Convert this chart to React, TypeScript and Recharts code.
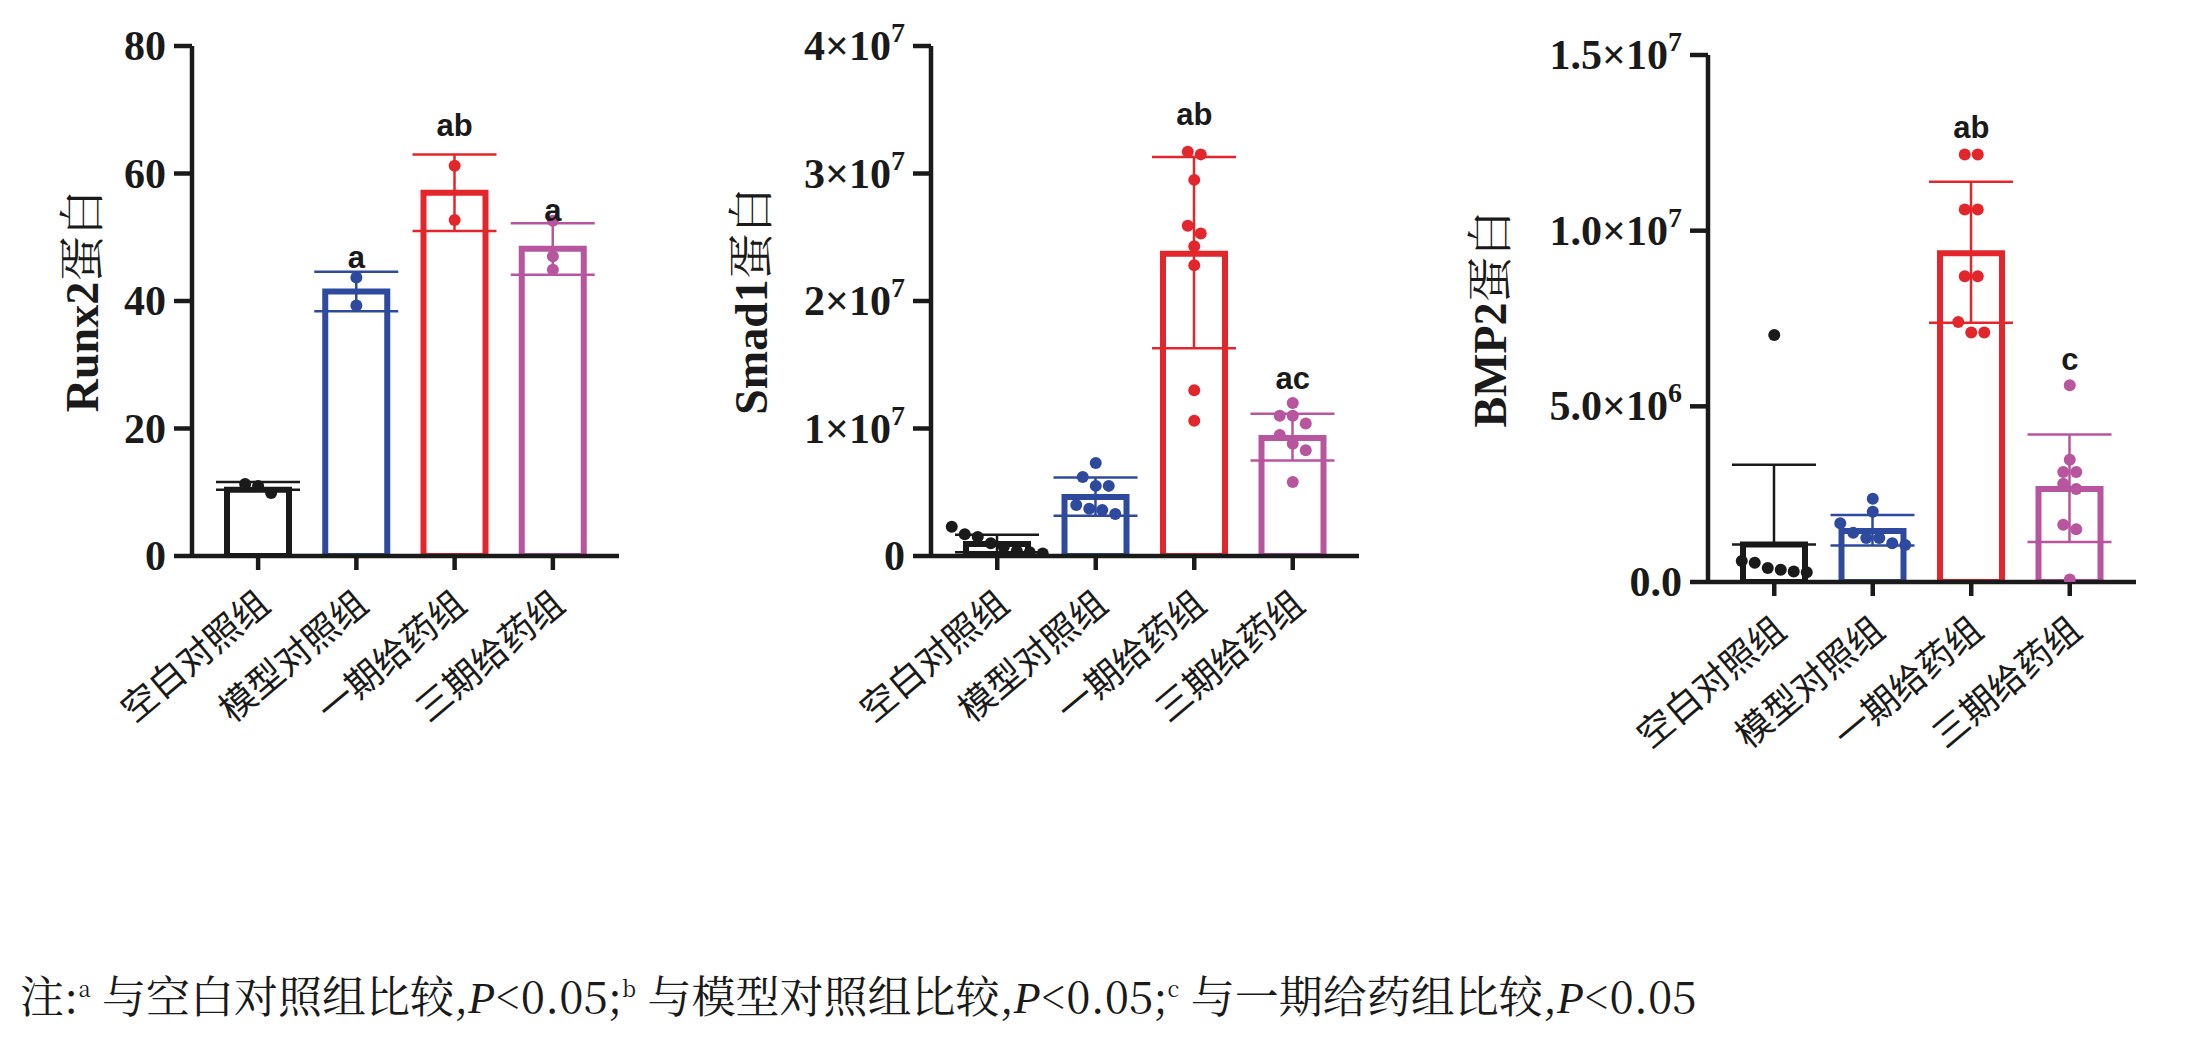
import React from 'react';
import { ComposedChart, Bar, ErrorBar, Scatter, XAxis, YAxis, ReferenceDot, Label } from 'recharts';

const groups = ['空白对照组', '模型对照组', '一期给药组', '三期给药组'];
const colors = ['#1a1a1a', '#2e4a9e', '#e3262b', '#b8559f'];

// Runx2
const runxMean = [10.4, 41.5, 57, 48.2];
const runxLow = [10.4, 38.4, 51, 44.1];
const runxHigh = [11.6, 44.6, 63, 52.2];
const runxPoints = [[11.3, 9.9, 11], [43.7, 39.3], [61.2, 52.7], [52.6, 47.0, 44.9]];
const runxTicks = [0, 20, 40, 60, 80];
const runxNotes = [null, 'a', 'ab', 'a'];
const runxNoteY = [0, 46.9, 67.6, 54.3];

// Smad1
const smadMean = [0.95e6, 4.63e6, 23.7e6, 9.26e6];
const smadLow = [0.3e6, 3.15e6, 16.3e6, 7.5e6];
const smadHigh = [1.67e6, 6.15e6, 31.3e6, 11.15e6];
const smadPoints = [
  [2.3e6, 1.7e6, 1.5e6, 1.0e6, 0.7e6, 0.4e6, 0.3e6, 0.2e6],
  [7.3e6, 6.2e6, 5.5e6, 5.5e6, 4.0e6, 3.7e6, 3.6e6, 3.3e6],
  [31.7e6, 31.5e6, 29.5e6, 25.9e6, 25.3e6, 24.3e6, 22.8e6, 13.0e6, 10.6e6],
  [12.0e6, 11.0e6, 11.0e6, 10.4e6, 9.5e6, 8.8e6, 8.3e6, 5.8e6],
];
const smadTicks = [0, 1e7, 2e7, 3e7, 4e7];
const smadNotes = [null, null, 'ab', 'ac'];
const smadNoteY = [0, 0, 34.7e6, 14.0e6];

// BMP2
const bmpMean = [1.07e6, 1.45e6, 9.36e6, 2.65e6];
const bmpLow = [1.07e6, 1.04e6, 7.38e6, 1.14e6];
const bmpHigh = [3.34e6, 1.91e6, 11.39e6, 4.2e6];
const bmpPoints = [
  [7.03e6, 0.6e6, 0.55e6, 0.4e6, 0.35e6, 0.3e6, 0.28e6],
  [2.37e6, 2.0e6, 1.67e6, 1.4e6, 1.25e6, 1.25e6, 1.1e6, 1.05e6],
  [12.17e6, 12.17e6, 10.6e6, 10.6e6, 8.7e6, 8.7e6, 7.4e6, 7.1e6, 7.1e6],
  [5.6e6, 3.48e6, 3.13e6, 3.13e6, 2.8e6, 2.65e6, 1.63e6, 1.5e6, 0.07e6],
];
const bmpTicks = [0, 5e6, 1e7, 1.5e7];
const bmpNotes = [null, null, 'ab', 'c'];
const bmpNoteY = [0, 0, 12.95e6, 6.34e6];

const serif = '"Liberation Serif", "Times New Roman", serif';
const cjk = '"Noto Sans CJK SC", sans-serif';
const MAXPTS = 9;

function jitter(vals: number[], tol: number) {
  const order = vals.map((v, i) => i).sort((a, b) => vals[b] - vals[a]);
  const dx = new Array(vals.length).fill(0);
  let cluster: number[] = [];
  const flush = () => {
    cluster.forEach((idx, k) => (dx[idx] = (k - (cluster.length - 1) / 2) * 13));
    cluster = [];
  };
  order.forEach((idx) => {
    if (cluster.length && vals[cluster[cluster.length - 1]] - vals[idx] > tol) flush();
    cluster.push(idx);
  });
  flush();
  return dx;
}

function fmtTick(kind: string, v: number) {
  if (kind === 'plain') return [String(v), ''];
  if (kind === 'sci') return v === 0 ? ['0', ''] : [`${v / 1e7}×10`, '7'];
  if (v === 0) return ['0.0', ''];
  const e = Math.floor(Math.log10(v) + 1e-9);
  return [`${(v / Math.pow(10, e)).toFixed(1)}×10`, String(e)];
}

function Panel(props: any) {
  const { left, mLeft, mRight, top, bottom, width, mean, low, high, points, ticks, max, kind, title, notes, noteY, titleX } = props;
  const height = 900;
  const data = groups.map((g, i) => {
    const row: any = { name: g, idx: i };
    row['m' + i] = mean[i];
    row['e' + i] = [mean[i] - low[i], high[i] - mean[i]];
    const dx = jitter(points[i], max * 0.02);
    points[i].forEach((v: number, k: number) => {
      row['p' + k] = v;
      row['dx' + k] = dx[k];
    });
    return row;
  });
  const YTick = (p: any) => {
    const [a, b] = fmtTick(kind, p.payload.value);
    return (
      <text x={p.x - 6} y={p.y + 14} textAnchor="end" fontFamily={serif} fontWeight="bold" fontSize={42} fill="#1a1a1a">
        {a}
        {b && <tspan dy={-18} fontSize={28}>{b}</tspan>}
      </text>
    );
  };
  const XTick = (p: any) => (
    <text x={p.x + 14} y={p.y + 36} textAnchor="end" transform={`rotate(-40 ${p.x + 14} ${p.y + 36})`} fontFamily={cjk} fontSize={36} fill="#1a1a1a">
      {p.payload.value}
    </text>
  );
  return (
    <div style={{ position: 'absolute', left, top: 0 }}>
      <ComposedChart width={width} height={height} data={data} margin={{ left: mLeft, right: mRight, top, bottom: height - bottom - 200 }}>
        <XAxis dataKey="name" type="category" height={200} padding={{ left: 17, right: 17 }} tick={<XTick />} tickSize={14} stroke="#1a1a1a" strokeWidth={4.5} tickLine={{ strokeWidth: 4.5 }} interval={0} />
        <YAxis type="number" domain={[0, max]} ticks={ticks} width={150} tick={<YTick />} tickSize={18} stroke="#1a1a1a" strokeWidth={4.5} tickLine={{ strokeWidth: 4.5 }} allowDataOverflow />
        {groups.map((g, i) => (
          <Bar key={g} dataKey={'m' + i} stackId="s" barSize={62} fill="#fff" stroke={colors[i]} strokeWidth={6} isAnimationActive={false}>
            <ErrorBar dataKey={'e' + i} width={42} stroke={colors[i]} strokeWidth={2.5} direction="y" />
          </Bar>
        ))}
        {Array.from({ length: MAXPTS }, (_, k) => (
          <Scatter key={'p' + k} dataKey={'p' + k} isAnimationActive={false}
            shape={(p: any) => {
              const v = p.payload['p' + k];
              if (v == null || !isFinite(p.cy)) return <g />;
              return <circle cx={p.cx + p.payload['dx' + k]} cy={p.cy} r={6} fill={colors[p.payload.idx]} />;
            }} />
        ))}
        {groups.map((g, i) =>
          notes[i] ? (
            <ReferenceDot key={'n' + g} x={g} y={noteY[i]} r={0} stroke="none" ifOverflow="visible">
              <Label value={notes[i]} position="center" fontFamily='"Liberation Sans", Arial, sans-serif' fontWeight="bold" fontSize={31} fill="#1a1a1a" />
            </ReferenceDot>
          ) : null
        )}
      </ComposedChart>
      <div style={{ position: 'absolute', left: titleX, top: (top + bottom) / 2, transform: 'translate(-50%, -50%) rotate(-90deg)', whiteSpace: 'nowrap', fontSize: 46, fontWeight: 'bold', fontFamily: serif, color: '#1a1a1a' }}>
        {title}<span style={{ fontFamily: '"Noto Serif CJK SC", ' + cjk, fontWeight: 'normal' }}>蛋白</span>
      </div>
    </div>
  );
}

export default function App() {
  return (
    <div style={{ position: 'absolute', left: 0, top: 0, width: 2207, height: 1043, background: '#fff', overflow: 'hidden' }}>
      <Panel left={0} width={650} mLeft={42} mRight={31} top={46} bottom={556} mean={runxMean} low={runxLow} high={runxHigh} points={runxPoints} ticks={runxTicks} max={80} kind="plain" title="Runx2" notes={runxNotes} noteY={runxNoteY} titleX={78} />
      <Panel left={740} width={650} mLeft={41} mRight={31} top={46} bottom={556} mean={smadMean} low={smadLow} high={smadHigh} points={smadPoints} ticks={smadTicks} max={4e7} kind="sci" title="Smad1" notes={smadNotes} noteY={smadNoteY} titleX={7} />
      <Panel left={1480} width={727} mLeft={78} mRight={71} top={55} bottom={582} mean={bmpMean} low={bmpLow} high={bmpHigh} points={bmpPoints} ticks={bmpTicks} max={1.5e7} kind="fix" title="BMP2" notes={bmpNotes} noteY={bmpNoteY} titleX={6} />
      <div style={{ position: 'absolute', left: 20, top: 962, whiteSpace: 'nowrap', fontSize: 44, fontFamily: '"Noto Serif CJK SC", ' + cjk, color: '#1a1a1a' }}>
        注:<sup style={{ fontSize: 22 }}>a</sup> 与空白对照组比较,<i style={{ fontFamily: serif }}>P</i>&lt;0.05;<sup style={{ fontSize: 22 }}>b</sup> 与模型对照组比较,<i style={{ fontFamily: serif }}>P</i>&lt;0.05;<sup style={{ fontSize: 22 }}>c</sup> 与一期给药组比较,<i style={{ fontFamily: serif }}>P</i>&lt;0.05
      </div>
    </div>
  );
}
